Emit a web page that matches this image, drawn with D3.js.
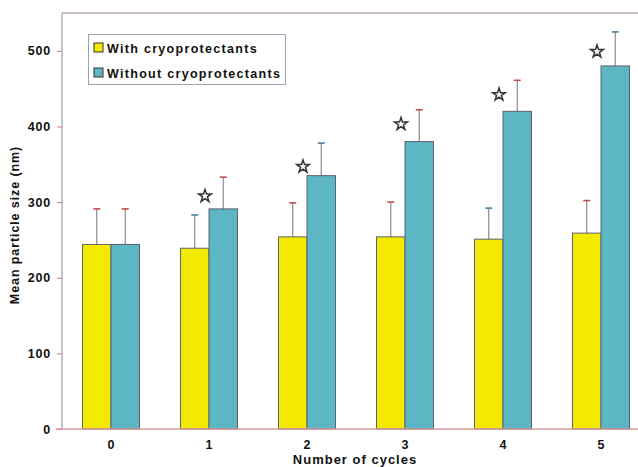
<!DOCTYPE html>
<html lang="en">
<head>
    <meta charset="UTF-8">
    <title>Mean particle size vs cycles</title>
    <script src="https://cdnjs.cloudflare.com/ajax/libs/d3/7.8.5/d3.min.js"></script>
    <style>
        body { margin: 0; background: #fff; }
        text { font-family: "Liberation Sans", Arial, sans-serif; font-weight: bold; }
    </style>
</head>
<body>
    <div id="wrapper"></div>
    <script>
        // data
        const cycles = ['0', '1', '2', '3', '4', '5']
        const withCryo = [244, 239, 254, 254, 251, 259]
        const withCryoSd = [47, 44, 45, 46, 41, 43]
        const withoutCryo = [244, 291, 335, 380, 420, 480]
        const withoutCryoSd = [47, 42, 43, 42, 41, 45]
        const starLevels = [null, 308, 347, 403, 442, 499]
        const yTicks = [0, 100, 200, 300, 400, 500]
        const seriesNames = ['With cryoprotectants', 'Without cryoprotectants']
        const seriesColors = ['#f4ea00', '#5cb6c4']

        const dimensions = {
            width: 638,
            height: 467,
            margin: { top: 13, right: -12, bottom: 38, left: 62 }
        }
        dimensions.boundedWidth = dimensions.width - dimensions.margin.left - dimensions.margin.right
        dimensions.boundedHeight = dimensions.height - dimensions.margin.top - dimensions.margin.bottom

        const svg = d3.select('#wrapper')
            .append('svg')
                .attr('width', dimensions.width)
                .attr('height', dimensions.height)

        const bounds = svg.append('g')
            .attr('transform', `translate(${dimensions.margin.left},${dimensions.margin.top})`)

        const xScale = d3.scaleBand()
            .domain(cycles)
            .range([0, dimensions.boundedWidth])

        const yScale = d3.scaleLinear()
            .domain([0, 550])
            .range([dimensions.boundedHeight, 0])

        const barWidth = 28.5
        const rows = []
        cycles.forEach((c, i) => {
            rows.push({ c, s: 0, v: withCryo[i], sd: withCryoSd[i] })
            rows.push({ c, s: 1, v: withoutCryo[i], sd: withoutCryoSd[i] })
        })
        const barX = d => xScale(d.c) + xScale.bandwidth() / 2 + (d.s - 1) * barWidth

        // top frame line
        bounds.append('line')
            .attr('x1', 0).attr('x2', dimensions.width - dimensions.margin.left)
            .attr('y1', 0).attr('y2', 0)
            .attr('stroke', '#b9a9ad')
            .attr('stroke-width', 1.5)

        // error bars
        const err = bounds.append('g').selectAll('g')
            .data(rows)
            .enter().append('g')
        err.append('line')
            .attr('x1', d => barX(d) + barWidth / 2)
            .attr('x2', d => barX(d) + barWidth / 2)
            .attr('y1', d => yScale(d.v))
            .attr('y2', d => yScale(d.v + d.sd))
            .attr('stroke', '#8a8a90')
            .attr('stroke-width', 1.2)
        err.append('line')
            .attr('x1', d => barX(d) + barWidth / 2 - 3.5)
            .attr('x2', d => barX(d) + barWidth / 2 + 3.5)
            .attr('y1', d => yScale(d.v + d.sd))
            .attr('y2', d => yScale(d.v + d.sd))
            .attr('stroke', (d, i) => i % 3 === 2 ? '#4a7fa0' : '#c0504d')
            .attr('stroke-width', 1.6)

        // bars
        bounds.append('g').selectAll('rect')
            .data(rows)
            .enter().append('rect')
                .attr('x', barX)
                .attr('y', d => yScale(d.v))
                .attr('width', barWidth)
                .attr('height', d => dimensions.boundedHeight - yScale(d.v))
                .attr('fill', d => seriesColors[d.s])
                .attr('stroke', '#5c6270')
                .attr('stroke-width', 1)

        // significance stars
        const star = d3.symbol().type(d3.symbolStar).size(50)
        bounds.append('g').selectAll('path')
            .data(cycles.map((c, i) => ({ c, v: starLevels[i] })).filter(d => d.v !== null))
            .enter().append('path')
                .attr('d', star)
                .attr('transform', d => `translate(${xScale(d.c) + xScale.bandwidth() / 2 - 4},${yScale(d.v)})`)
                .attr('fill', '#fff')
                .attr('stroke', '#333')
                .attr('stroke-width', 1.5)

        // y axis
        const yAxis = bounds.append('g')
            .call(d3.axisLeft(yScale).tickValues(yTicks).tickSize(5).tickPadding(6))
        yAxis.select('.domain').attr('stroke', '#b0b0b4').attr('stroke-width', 1.5)
            .attr('d', `M0,${dimensions.boundedHeight}V0`)
        yAxis.selectAll('.tick line').attr('stroke', '#c87a80')
        yAxis.selectAll('.tick text')
            .attr('fill', '#111')
            .style('font-size', '12.5px')
            .style('letter-spacing', '0.8px')

        // x axis
        const xAxis = bounds.append('g')
            .attr('transform', `translate(0,${dimensions.boundedHeight})`)
            .call(d3.axisBottom(xScale).tickSize(0).tickPadding(11))
        xAxis.select('.domain').attr('stroke', '#d99a9a').attr('stroke-width', 1.5)
            .attr('d', `M-6,0H${dimensions.width - dimensions.margin.left}`)
        xAxis.selectAll('.tick text')
            .attr('fill', '#111')
            .style('font-size', '12.5px')

        // axis titles
        svg.append('text')
            .attr('x', 355)
            .attr('y', 464)
            .attr('text-anchor', 'middle')
            .attr('fill', '#111')
            .style('font-size', '13px')
            .style('letter-spacing', '1px')
            .text('Number of cycles')

        svg.append('text')
            .attr('transform', 'translate(19,225) rotate(-90)')
            .attr('text-anchor', 'middle')
            .attr('fill', '#111')
            .style('font-size', '12.5px')
            .style('letter-spacing', '0.9px')
            .text('Mean particle size (nm)')

        // legend
        const legend = svg.append('g')
        legend.append('rect')
            .attr('x', 88.5).attr('y', 34.5)
            .attr('width', 197).attr('height', 50)
            .attr('fill', '#fff')
            .attr('stroke', '#9aa6b6')
            .attr('stroke-width', 1)
        const items = legend.selectAll('g.item')
            .data(seriesNames)
            .enter().append('g')
                .attr('class', 'item')
                .attr('transform', (d, i) => `translate(94,${43 + i * 25})`)
        items.append('rect')
            .attr('width', 9).attr('height', 9)
            .attr('fill', (d, i) => seriesColors[i])
            .attr('stroke', '#333')
            .attr('stroke-width', 1)
        items.append('text')
            .attr('x', 13)
            .attr('y', 9.5)
            .attr('fill', '#111')
            .style('font-size', '12.5px')
            .style('letter-spacing', '1.3px')
            .text(d => d)
    </script>
</body>
</html>
